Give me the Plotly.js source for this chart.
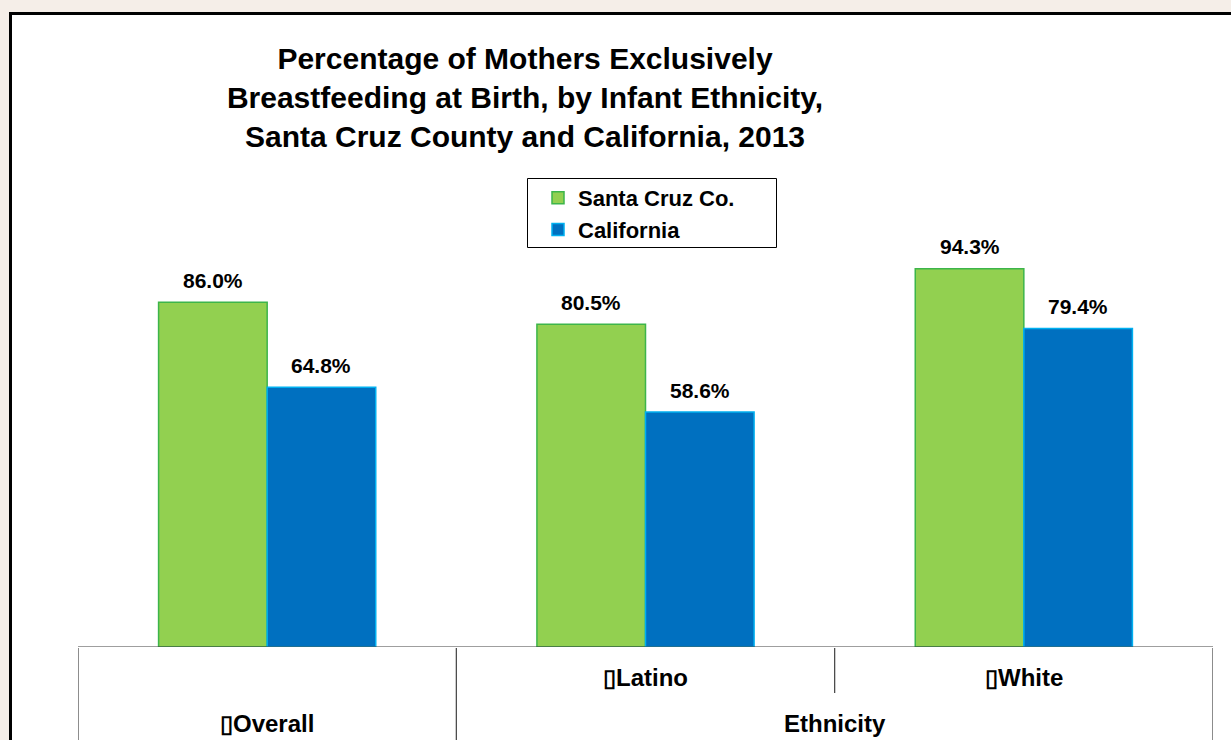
<!DOCTYPE html>
<html>
<head>
<meta charset="utf-8">
<script src="https://cdn.plot.ly/plotly-3.0.1.min.js"></script>
<style>html,body{margin:0;padding:0;background:#F5EEE8;}#chart{width:1231px;height:740px;}</style>
</head>
<body>
<div id="chart"></div>
<script>
// ---- data ----
const categories = ["Overall", "Latino", "White"];
const seriesNames = ["Santa Cruz Co.", "California"];
const santaCruz = [86.0, 80.5, 94.3];
const california = [64.8, 58.6, 79.4];
const groupLabel = "Ethnicity";
const titleLines = ["Percentage of Mothers Exclusively", "Breastfeeding at Birth, by Infant Ethnicity,", "Santa Cruz County and California, 2013"];

// ---- style ----
const W = 1231, H = 740;
const FONT = "Liberation Sans, Arial, sans-serif";
const green = "#92D050", greenLine = "#3DB54A";
const blue = "#0070C0", blueLine = "#00B0F0";
const bargap = 0.426;
const px = v => v / W;
const py = v => 1 - v / H;

const traces = [
  {type: "bar", name: "<b>" + seriesNames[0] + "</b>", x: categories, y: santaCruz,
   marker: {color: green, line: {color: greenLine, width: 1.5}}, hoverinfo: "x+y"},
  {type: "bar", name: "<b>" + seriesNames[1] + "</b>", x: categories, y: california,
   marker: {color: blue, line: {color: blueLine, width: 1.5}}, hoverinfo: "x+y"}
];

const off = (1 - bargap) / 4;
const annotations = [];
[santaCruz, california].forEach((vals, s) => {
  vals.forEach((v, i) => {
    annotations.push({x: i + (s === 0 ? -off : off), y: v, xref: "x", yref: "y",
      text: "<b>" + v.toFixed(1) + "%</b>", showarrow: false, yanchor: "middle", yshift: 22,
      font: {family: FONT, size: 21, color: "#000"}});
  });
});
// category labels (table below axis)
categories.forEach((c, i) => {
  annotations.push({x: i, y: i === 0 ? py(723) : py(677), xref: "x", yref: "paper",
    text: "<b>▯" + c + "</b>", showarrow: false, yanchor: "middle",
    font: {family: FONT, size: 24, color: "#000"}});
});
annotations.push({x: 1.5, y: py(723), xref: "x", yref: "paper", text: "<b>" + groupLabel + "</b>",
  showarrow: false, yanchor: "middle", font: {family: FONT, size: 24, color: "#000"}});

const lineC = "#404040";
const shapes = [
  // outer white chart area with black frame
  {type: "rect", xref: "paper", yref: "paper", x0: px(10.5), x1: px(1260), y0: py(780), y1: py(13.5),
   fillcolor: "#FFFFFF", line: {color: "#000", width: 3}, layer: "below"},
  // legend box
  {type: "rect", xref: "paper", yref: "paper", x0: px(527.5), x1: px(776.5), y0: py(247.5), y1: py(178.5),
   fillcolor: "rgba(0,0,0,0)", line: {color: "#000", width: 1}},
  // table lines
  {type: "line", xref: "x", yref: "y", x0: -0.5, x1: 2.5, y0: 0, y1: 0, line: {color: lineC, width: 1.2}},
  {type: "line", xref: "x", yref: "paper", x0: -0.5, x1: -0.5, y0: py(648), y1: py(760), line: {color: lineC, width: 1.2}},
  {type: "line", xref: "x", yref: "paper", x0: 0.5, x1: 0.5, y0: py(648), y1: py(760), line: {color: lineC, width: 1.2}},
  {type: "line", xref: "x", yref: "paper", x0: 1.5, x1: 1.5, y0: py(648), y1: py(693), line: {color: lineC, width: 1.2}},
  {type: "line", xref: "x", yref: "paper", x0: 2.5, x1: 2.5, y0: py(648), y1: py(760), line: {color: lineC, width: 1.2}}
];

const layout = {
  width: W, height: H,
  margin: {l: 0, r: 0, t: 0, b: 0, pad: 0},
  paper_bgcolor: "#F5EEE8",
  plot_bgcolor: "rgba(0,0,0,0)",
  font: {family: FONT, color: "#000"},
  title: {text: "<b>" + titleLines.join("<br>") + "</b>", x: px(525), xanchor: "center",
          y: py(69), yanchor: "middle", xref: "paper", yref: "paper",
          font: {family: FONT, size: 30, color: "#000"}},
  barmode: "group", bargap: bargap, bargroupgap: 0,
  xaxis: {domain: [px(78), px(1213)], range: [-0.5, 2.5], showticklabels: false, ticks: "",
          showgrid: false, zeroline: false, showline: false, fixedrange: true},
  yaxis: {domain: [py(647), py(246)], range: [0, 100], showticklabels: false, ticks: "",
          showgrid: false, zeroline: false, showline: false, fixedrange: true},
  showlegend: true,
  legend: {x: px(538), y: py(177), xanchor: "left", yanchor: "top", bgcolor: "rgba(0,0,0,0)",
           borderwidth: 0, font: {family: FONT, size: 22, color: "#000"}, itemwidth: 30,
           tracegroupgap: 0, traceorder: "normal"},
  annotations: annotations,
  shapes: shapes
};

Plotly.newPlot("chart", traces, layout, {displayModeBar: false, staticPlot: true});
</script>
</body>
</html>
